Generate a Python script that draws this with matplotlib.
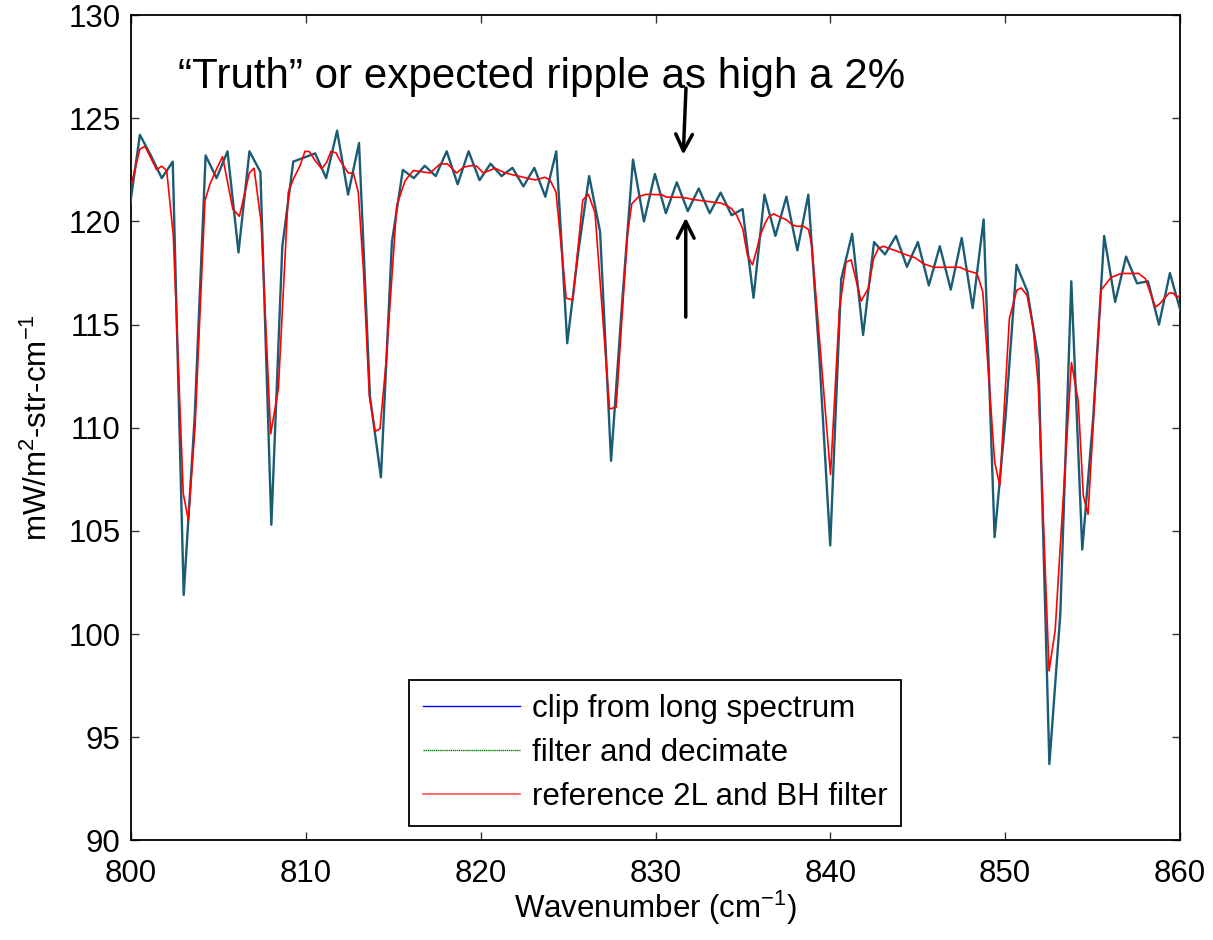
import numpy as np
import matplotlib
matplotlib.use("Agg")
import matplotlib.pyplot as plt
from matplotlib.lines import Line2D

plt.rcParams['font.family'] = ['Liberation Sans', 'DejaVu Sans']
plt.rcParams['mathtext.fontset'] = 'custom'
plt.rcParams['mathtext.rm'] = 'Liberation Sans'
plt.rcParams['mathtext.it'] = 'Liberation Sans:italic'
plt.rcParams['mathtext.default'] = 'regular'

# ---- data -------------------------------------------------------------
wn_start, wn_stop = 799.88, 860.05
clip_spectrum = [
    120.4, 124.2, 123.2, 122.1, 122.9, 101.9, 110.5, 123.2, 122.1, 123.4,
    118.5, 123.4, 122.4, 105.3, 118.8, 122.9, 123.1, 123.3, 122.1, 124.4,
    121.3, 123.8, 111.5, 107.6, 119.0, 122.5, 122.1, 122.7, 122.2, 123.4,
    121.8, 123.4, 122.0, 122.8, 122.2, 122.6, 121.7, 122.6, 121.2, 123.4,
    114.1, 118.5, 122.2, 119.5, 108.4, 116.0, 123.0, 120.0, 122.3, 120.4,
    121.9, 120.5, 121.6, 120.4, 121.4, 120.3, 120.6, 116.3, 121.3, 119.3,
    121.2, 118.6, 121.3, 113.5, 104.3, 117.2, 119.4, 114.5, 119.0, 118.4,
    119.3, 117.8, 119.0, 116.9, 118.8, 116.7, 119.2, 115.8, 120.1, 104.7,
    110.5, 117.9, 116.6, 113.3, 93.7, 101.0, 117.1, 104.1, 110.5, 119.3,
    116.1, 118.3, 117.0, 117.1, 115.0, 117.5, 115.6,
]
wavenumber = np.linspace(wn_start, wn_stop, len(clip_spectrum))
filter_decimate = list(clip_spectrum)

ref_wn = [
    799.9, 800.51, 800.80, 801.47, 801.75, 802.04, 802.42, 802.99, 803.28, 803.66,
    804.23, 804.52, 804.94, 805.24, 805.82, 806.20, 806.77, 807.04, 807.44, 807.99,
    808.43, 809.00, 809.29, 809.67, 809.95, 810.20, 810.53, 810.91, 811.19, 811.44,
    811.73, 811.96, 812.43, 812.72, 813.00, 813.29, 813.63, 813.96, 814.24, 814.59,
    815.20, 815.68, 816.15, 817.11, 817.68, 818.10, 818.63, 819.01, 819.49, 819.77,
    820.15, 820.82, 821.40, 822.06, 822.63, 823.11, 823.68, 823.97, 824.31, 824.89,
    825.27, 825.84, 826.16, 826.54, 827.37, 827.75, 828.39, 828.64, 829.02, 829.41,
    830.36, 830.62, 831.51, 831.79, 832.17, 832.65, 833.32, 833.70, 834.08, 834.36,
    834.65, 834.99, 835.26, 835.55, 835.80, 835.99, 836.27, 836.46, 836.75, 837.13,
    837.47, 837.80, 838.04, 838.46, 838.75, 838.94, 840.01, 840.52, 840.90, 841.19,
    841.76, 842.18, 842.47, 842.75, 843.04, 843.33, 843.71, 844.19, 844.85, 845.33,
    845.91, 847.43, 847.81, 848.39, 848.72, 849.40, 849.69, 850.24, 850.66, 850.92,
    851.25, 851.60, 851.89, 852.51, 852.86, 853.79, 854.18, 854.47, 854.74, 855.48,
    856.06, 856.65, 857.62, 858.01, 858.59, 858.84, 859.37, 859.60, 859.85, 860.30,
]
ref_filter = [
    121.4, 123.51, 123.64, 122.51, 122.68, 122.47, 119.32, 106.81, 105.52, 110.0,
    121.01, 121.82, 122.63, 123.14, 120.61, 120.25, 122.35, 122.58, 119.96, 109.71,
    111.89, 121.42, 122.06, 122.71, 123.40, 123.39, 122.95, 122.55, 122.87, 123.40,
    123.32, 122.95, 122.35, 122.35, 121.42, 117.70, 111.57, 109.83, 109.95, 113.18,
    120.77, 121.98, 122.47, 122.35, 122.79, 122.79, 122.35, 122.63, 122.71, 122.68,
    122.35, 122.58, 122.35, 122.22, 122.11, 122.01, 122.14, 122.00, 121.42, 116.28,
    116.20, 121.04, 121.32, 120.42, 110.91, 111.00, 119.32, 120.85, 121.19, 121.31,
    121.30, 121.18, 121.17, 121.13, 121.06, 121.01, 120.93, 120.90, 120.77, 120.61,
    120.29, 119.64, 118.35, 117.90, 118.67, 119.32, 119.92, 120.21, 120.37, 120.21,
    120.09, 119.85, 119.77, 119.77, 119.61, 118.83, 107.73, 115.77, 118.03, 118.14,
    116.14, 116.77, 118.19, 118.70, 118.80, 118.70, 118.59, 118.43, 118.24, 117.95,
    117.78, 117.78, 117.62, 117.48, 116.58, 108.34, 107.20, 115.28, 116.67, 116.78,
    116.42, 114.87, 112.09, 98.22, 100.18, 113.16, 111.28, 106.71, 105.81, 116.67,
    117.29, 117.48, 117.48, 117.24, 115.85, 116.01, 116.53, 116.53, 116.31, 116.70,
]

legend_labels = ["clip from long spectrum", "filter and decimate",
                 "reference 2L and BH filter"]
annotation = "\u201cTruth\u201d or expected ripple as high a 2%"
x_ticks = [800, 810, 820, 830, 840, 850, 860]
y_ticks = [90, 95, 100, 105, 110, 115, 120, 125, 130]

FS = 22.5

# ---- figure -----------------------------------------------------------
fig = plt.figure(figsize=(12.13, 9.40), dpi=100)
ax = fig.add_axes([0.1080, 0.1059, 0.8648, 0.8780])

ax.plot(wavenumber, clip_spectrum, color='#1f5a82', lw=1.7, zorder=3)
ax.plot(wavenumber, filter_decimate, color='#0b6a40', lw=0.8,
        ls=(0, (1, 1)), alpha=0.7, zorder=4)
ax.plot(ref_wn, ref_filter, color='#ff0000', lw=1.2, zorder=5)

ax.set_xlim(800, 860)
ax.set_ylim(90, 130)
ax.set_xticks(x_ticks)
ax.set_yticks(y_ticks)
ax.tick_params(direction='in', length=6, width=1, top=True, right=True,
               labelsize=FS, color='#333333')
ax.tick_params(axis='x', pad=13)
ax.tick_params(axis='y', pad=7.5)
for s in ax.spines.values():
    s.set_linewidth(1.3)
    s.set_color('black')

ax.set_xlabel("Wavenumber (cm$^{-1}$)", fontsize=FS, labelpad=0)
ax.set_ylabel("mW/m$^{2}$-str-cm$^{-1}$", fontsize=FS, labelpad=10)

handles = [Line2D([], [], color='#0000ff', lw=1.0),
           Line2D([], [], color='#008000', lw=1.0, ls=(0, (1, 0.5))),
           Line2D([], [], color='#ff5050', lw=1.2)]
leg = ax.legend(handles, legend_labels, loc='lower left',
                bbox_to_anchor=(0.265, 0.017), borderaxespad=0,
                fontsize=FS, frameon=True, fancybox=False, edgecolor='black',
                framealpha=1, handlelength=3.1, handletextpad=0.38,
                labelspacing=0.46, borderpad=0.45)
leg.get_frame().set_linewidth(1.3)

ax.text(802.69, 126.47, annotation, fontsize=30.3, ha='left', va='baseline')

ax.annotate('', xy=(831.58, 123.1), xytext=(831.75, 126.6),
            arrowprops=dict(arrowstyle='->', color='black', lw=2.5,
                            mutation_scale=30))
ax.annotate('', xy=(831.73, 120.32), xytext=(831.73, 115.23),
            arrowprops=dict(arrowstyle='->', color='black', lw=2.5,
                            mutation_scale=30))

fig.savefig('out.png', dpi=100)
